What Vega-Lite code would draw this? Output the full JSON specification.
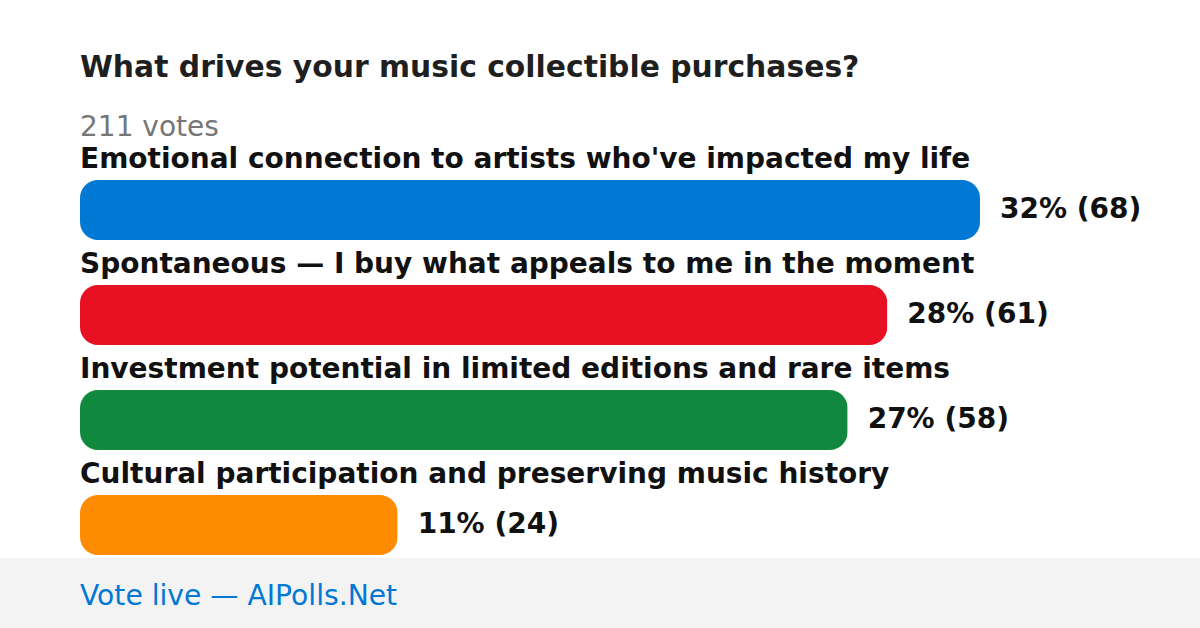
{
  "$schema": "https://vega.github.io/schema/vega-lite/v6.json",
  "padding": 0,
  "spacing": 0,
  "background": "white",
  "config": {"font": "DejaVu Sans", "view": {"stroke": null}},
  "data": {"values": [
    {"option": "Emotional connection to artists who've impacted my life", "votes": 68, "percent": 32},
    {"option": "Spontaneous — I buy what appeals to me in the moment", "votes": 61, "percent": 28},
    {"option": "Investment potential in limited editions and rare items", "votes": 58, "percent": 27},
    {"option": "Cultural participation and preserving music history", "votes": 24, "percent": 11}
  ]},
  "vconcat": [
    {
      "width": 1200,
      "height": 558,
      "title": {
        "text": "What drives your music collectible purchases?",
        "subtitle": "211 votes",
        "orient": "top",
        "anchor": "start",
        "frame": "group",
        "dx": 80,
        "offset": -142,
        "fontSize": 29.8,
        "fontWeight": "bold",
        "color": "#1f1f1f",
        "subtitleFontSize": 28,
        "subtitleColor": "#767676",
        "subtitlePadding": 31
      },
      "transform": [
        {"calculate": "datum.percent + '% (' + datum.votes + ')'", "as": "valueLabel"}
      ],
      "encoding": {
        "y": {"field": "option", "type": "nominal", "sort": null, "axis": null,
              "scale": {"range": [157.5, 577.5], "paddingInner": 0, "paddingOuter": 0}}
      },
      "layer": [
        {
          "mark": {"type": "bar", "size": 60, "cornerRadius": 18},
          "encoding": {
            "x": {"field": "votes", "type": "quantitative", "axis": null,
                  "scale": {"domain": [0, 68], "range": [80, 980], "nice": false, "zero": true}},
            "color": {"field": "option", "type": "nominal", "legend": null,
                      "scale": {"domain": [
                        "Emotional connection to artists who've impacted my life",
                        "Spontaneous — I buy what appeals to me in the moment",
                        "Investment potential in limited editions and rare items",
                        "Cultural participation and preserving music history"],
                        "range": ["#0078d4", "#e81123", "#10893e", "#ff8c00"]}}
          }
        },
        {
          "mark": {"type": "text", "align": "left", "baseline": "alphabetic", "dy": -42,
                   "fontSize": 28, "fontWeight": "bold", "color": "#111111"},
          "encoding": {
            "x": {"datum": 0, "type": "quantitative"},
            "text": {"field": "option"}
          }
        },
        {
          "mark": {"type": "text", "align": "left", "baseline": "middle", "dx": 20,
                   "fontSize": 28, "fontWeight": "bold", "color": "#111111"},
          "encoding": {
            "x": {"field": "votes", "type": "quantitative"},
            "text": {"field": "valueLabel"}
          }
        }
      ]
    },
    {
      "width": 1200,
      "height": 70,
      "view": {"fill": "#f3f3f3", "stroke": null},
      "data": {"values": [{"site": "Vote live — AIPolls.Net"}]},
      "mark": {"type": "text", "align": "left", "baseline": "alphabetic", "x": 80, "y": 47,
               "fontSize": 28.2, "color": "#0078d4"},
      "encoding": {"text": {"field": "site"}}
    }
  ]
}
